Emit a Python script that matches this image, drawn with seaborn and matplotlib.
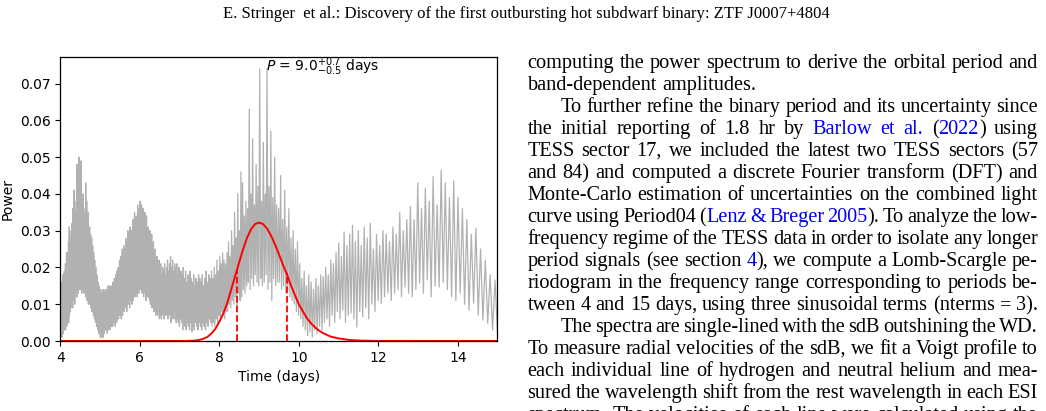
import numpy as np
import matplotlib
matplotlib.use("Agg")
import matplotlib.pyplot as plt
import seaborn as sns

# periodogram frequency grid (cycles / day) -> periods 4..15 d
freq_max = 1 / 4.0
freq_min = 1 / 15.0
n_fringes = 330

# fringe maxima / minima, units of 1e-3 power
peak_power = [
    12, 9, 14, 11, 16, 10, 13, 18, 12, 15,      # 4.00 - 4.09
    15, 19, 13, 17, 21, 16, 20, 24, 18, 22,     # 4.09 - 4.18
    24, 20, 27, 23, 31, 25, 22, 28, 26, 30,     # 4.19 - 4.28
    27, 32, 29, 36, 30, 33, 41, 31, 35, 32,     # 4.29 - 4.38
    33, 38, 31, 48, 34, 32, 36, 50, 33, 37,     # 4.39 - 4.49
    34, 32, 49, 33, 36, 31, 40, 33, 35, 30,     # 4.50 - 4.60
    33, 36, 43, 32, 38, 29, 31, 35, 28, 30,     # 4.62 - 4.72
    31, 27, 29, 25, 28, 23, 26, 22, 24, 21,     # 4.74 - 4.85
    22, 19, 20, 17, 18, 15, 16, 14, 15, 13,     # 4.86 - 4.99
    12, 14, 11, 13, 12, 14, 11, 13, 12, 14,     # 5.00 - 5.13
    13, 11, 14, 12, 15, 13, 12, 15, 13, 14,     # 5.14 - 5.28
    15, 13, 16, 14, 17, 15, 18, 16, 19, 17,     # 5.29 - 5.44
    20, 18, 22, 19, 23, 21, 25, 22, 26, 24,     # 5.45 - 5.61
    25, 28, 24, 27, 30, 26, 29, 31, 27, 30,     # 5.62 - 5.79
    29, 33, 28, 35, 31, 34, 30, 37, 32, 36,     # 5.80 - 5.98
    38, 31, 37, 33, 36, 30, 35, 32, 34, 29,     # 6.00 - 6.19
    31, 28, 30, 26, 29, 25, 27, 23, 25, 22,     # 6.21 - 6.41
    23, 20, 22, 19, 21, 18, 20, 19, 21, 18,     # 6.43 - 6.65
    20, 22, 19, 21, 23, 20, 22, 19, 21, 20,     # 6.67 - 6.90
    21, 18, 20, 17, 19, 18, 20, 17, 19, 16,     # 6.92 - 7.17
    18, 16, 19, 17, 16, 18, 15, 17, 16, 18,     # 7.20 - 7.47
    17, 16, 18, 15, 17, 19, 16, 18, 17, 19,     # 7.50 - 7.80
    17, 20, 18, 22, 19, 23, 21, 24, 22, 21,     # 7.83 - 8.15
    24, 27, 23, 30, 26, 35, 28, 40, 30, 46,     # 8.18 - 8.53
    43, 34, 38, 36, 63, 40, 55, 37, 48, 42,     # 8.57 - 8.96
    74, 38, 54, 40, 74, 42, 57, 39, 50, 37,     # 9.00 - 9.43
    36, 45, 33, 41, 31, 36, 28, 30, 25, 27,     # 9.47 - 9.95
    21, 17, 19, 15, 18, 16, 14, 17, 15, 18,     # 10.0 - 10.5
    17.5, 20, 18, 22, 21, 24, 26.6, 23, 29.7, 26,   # 10.6 - 11.2
    29, 31.5, 27, 30, 26, 31, 28, 32, 25, 29,       # 11.2 - 11.9
    26, 30, 29, 27, 31, 29, 35, 30, 33, 36.6,       # 12.0 - 12.8
    33, 43, 36, 41.6, 38, 44.7, 37, 46.5, 43, 39,   # 12.9 - 13.7
    43.5, 39, 36, 33, 29, 30.7, 25, 22, 18, 16.6,   # 13.8 - 14.9
]
dip_power = [
    1, 3, 2, 4, 1, 3, 5, 2, 4, 3,
    3, 5, 4, 6, 3, 5, 7, 4, 6, 5,
    6, 8, 5, 9, 7, 10, 8, 11, 9, 12,
    10, 12, 9, 13, 11, 14, 12, 10, 13, 14,
    13, 15, 12, 14, 16, 13, 15, 14, 16, 15,
    15, 14, 16, 13, 15, 14, 16, 13, 14, 15,
    13, 14, 12, 13, 11, 13, 12, 10, 12, 11,
    10, 11, 9, 10, 8, 9, 8, 7, 8, 6,
    7, 5, 6, 4, 5, 3, 4, 2, 3, 2,
    1, 2, 1, 3, 2, 1, 3, 2, 4, 3,
    3, 4, 2, 5, 3, 4, 5, 3, 5, 4,
    5, 4, 6, 5, 6, 4, 7, 5, 6, 7,
    6, 8, 7, 8, 6, 9, 7, 9, 8, 10,
    9, 10, 8, 11, 10, 12, 9, 11, 13, 10,
    12, 11, 13, 12, 14, 13, 12, 15, 13, 14,
    14, 15, 13, 14, 12, 14, 13, 11, 13, 12,
    12, 11, 10, 11, 9, 10, 8, 9, 7, 8,
    7, 8, 6, 7, 6, 8, 7, 6, 7, 8,
    7, 6, 8, 7, 5, 7, 6, 8, 6, 5,
    6, 5, 4, 6, 5, 3, 5, 4, 3, 5,
    4, 3, 5, 2.5, 4, 3, 5, 4, 3, 5,
    4, 3, 5, 4, 3, 5, 4, 6, 5, 4,
    5, 4, 6, 5, 7, 6, 8, 7, 6, 8,
    8, 10, 9, 11, 10, 12, 9.5, 13, 11, 12,
    14, 13, 15, 16, 14, 17, 15, 18, 16, 15,
    17, 15, 16, 18, 14, 16, 11, 17, 15, 16,
    16, 14, 15, 13, 14, 12, 11, 10, 8, 7,
    6, 4, 3, 1.5, 2.5, 1.1, 3, 2, 4, 3,
    5, 6, 4, 7, 5, 8, 6, 8.4, 5, 7,
    7.6, 6, 3.8, 8, 6.6, 9, 6, 10, 8, 11,
    10.3, 12, 13, 11, 13, 14, 12, 14.7, 13, 12,
    14, 15.8, 13, 16.6, 12, 15, 14.7, 16, 14, 12,
    11, 13, 10, 8.4, 10.3, 7, 5.7, 4.8, 3, 2.1,
]

# fitted peak (red curve)
fit_period = [4.0, 7.0, 7.2, 7.4, 7.5, 7.6, 7.7, 7.8, 7.9, 8.0, 8.1, 8.2, 8.3,
              8.4, 8.5, 8.6, 8.7, 8.8, 8.9, 9.0, 9.1, 9.2, 9.3, 9.4, 9.5, 9.6,
              9.7, 9.8, 9.9, 10.0, 10.1, 10.2, 10.3, 10.4, 10.5, 10.6, 10.8,
              11.0, 11.3, 11.6, 12.0, 15.0]
fit_power = [0.0, 0.0, 0.00002, 0.00013, 0.0003, 0.0006, 0.0011, 0.0020, 0.0033,
             0.0052, 0.0075, 0.0103, 0.0140, 0.0177, 0.0214, 0.0250, 0.0281,
             0.0304, 0.0318, 0.0322, 0.0318, 0.0306, 0.0287, 0.0263, 0.0236,
             0.0208, 0.0182, 0.0152, 0.0126, 0.0100, 0.0081, 0.0063, 0.0049,
             0.0038, 0.0029, 0.0022, 0.0012, 0.0007, 0.00025, 0.0001, 0.00002, 0.0]

err_period = [8.45, 9.70]
err_top = [0.0194, 0.0184]
period_label = r"$P$ = $9.0^{+0.7}_{-0.5}$ days"

header = "E. Stringer  et al.: Discovery of the first outbursting hot subdwarf binary: ZTF J0007+4804"

# (text, indent, justified); {...} = blue link text
body_lines = [
    ("computing the power spectrum to derive the orbital period and", False, True),
    ("band-dependent amplitudes.", False, False),
    ("To further refine the binary period and its uncertainty since", True, True),
    ("the initial reporting of 1.8 hr by {Barlow et al.} ({2022}) using", False, True),
    ("TESS sector 17, we included the latest two TESS sectors (57", False, True),
    ("and 84) and computed a discrete Fourier transform (DFT) and", False, True),
    ("Monte-Carlo estimation of uncertainties on the combined light", False, True),
    ("curve using Period04 ({Lenz & Breger 2005}). To analyze the low-", False, True),
    ("frequency regime of the TESS data in order to isolate any longer", False, True),
    ("period signals (see section {4}), we compute a Lomb-Scargle pe-", False, True),
    ("riodogram in the frequency range corresponding to periods be-", False, True),
    ("tween 4 and 15 days, using three sinusoidal terms (nterms = 3).", False, True),
    ("The spectra are single-lined with the sdB outshining the WD.", True, True),
    ("To measure radial velocities of the sdB, we fit a Voigt profile to", False, True),
    ("each individual line of hydrogen and neutral helium and mea-", False, True),
    ("sured the wavelength shift from the rest wavelength in each ESI", False, True),
    ("spectrum. The velocities of each line were calculated using the", False, True),
]


def parse_line(line, blue):
    words = []
    for tok in line.split(" "):
        segs, buf = [], ""
        for ch in tok:
            if ch in "{}":
                if buf:
                    segs.append((buf, blue))
                buf = ""
                blue = ch == "{"
            else:
                buf += ch
        if buf:
            segs.append((buf, blue))
        words.append(segs)
    return words, blue


def main():
    sns.set_style("ticks", rc={"axes.edgecolor": "black", "xtick.color": "black",
                               "ytick.color": "black", "text.color": "black",
                               "axes.labelcolor": "black"})
    plt.rcParams["font.family"] = ["DejaVu Sans"]

    W, H = 1046, 411
    fig = plt.figure(figsize=(W / 100, H / 100), dpi=100)
    ax = fig.add_axes([60.3 / W, 70 / H, 437.2 / W, 284.3 / H])

    freq = np.linspace(freq_max, freq_min, 2 * n_fringes)
    power = np.empty(2 * n_fringes)
    power[0::2] = peak_power
    power[1::2] = dip_power
    power *= 1e-3

    sns.lineplot(x=1 / freq, y=power, ax=ax, color="#888888", alpha=0.65, lw=0.9,
                 estimator=None, sort=False)
    sns.lineplot(x=fit_period, y=fit_power, ax=ax, color="red", lw=1.4,
                 estimator=None, sort=False)
    ax.vlines(err_period, 0, err_top, colors="red", linestyles="--", lw=1.3)

    ax.set_xlim(4, 15)
    ax.set_ylim(0, 0.0773)
    ax.set_xticks([4, 6, 8, 10, 12, 14])
    ax.set_yticks(np.arange(0, 0.071, 0.01))
    ax.yaxis.set_major_formatter(matplotlib.ticker.FormatStrFormatter("%.2f"))
    ax.set_xlabel("Time (days)")
    ax.set_ylabel("Power")
    ax.text(9.17, 0.0735, period_label, ha="left", va="baseline", fontsize=10)
    for s in ax.spines.values():
        s.set_visible(True)
        s.set_linewidth(0.9)

    # page text
    serif = "Liberation Serif"
    fig.text(526 / W, 1 - 17.5 / H, header, family=serif, fontsize=12,
             ha="center", va="baseline")

    body_size = 14.6
    left, right, indent = 527.5, 1038.0, 33.0
    first_base, gap_y = 67.5, 22.0
    renderer = fig.canvas.get_renderer()

    def width_of(s):
        t = fig.text(0, 0, s, family=serif, fontsize=body_size)
        w = t.get_window_extent(renderer).width
        t.remove()
        return w

    space_w = width_of("a a") - width_of("aa")

    blue = False
    for i, (line, ind, just) in enumerate(body_lines):
        y = round(first_base + i * gap_y)
        words, blue = parse_line(line, blue)
        placed, widths = [], []
        for segs in words:
            items = []
            for s, b in segs:
                t = fig.text(0, 1 - y / H, s, family=serif, fontsize=body_size,
                             color="#0000ee" if b else "black", va="baseline")
                items.append((t, t.get_window_extent(renderer).width))
            placed.append(items)
            widths.append(sum(w for _, w in items))
        x = left + (indent if ind else 0)
        if just and len(words) > 1:
            gap = (right - x - sum(widths)) / (len(words) - 1)
        else:
            gap = space_w
        for items in placed:
            for t, w in items:
                t.set_x(x / W)
                x += w
            x += gap

    fig.savefig("out.png", dpi=100)


if __name__ == "__main__":
    main()
